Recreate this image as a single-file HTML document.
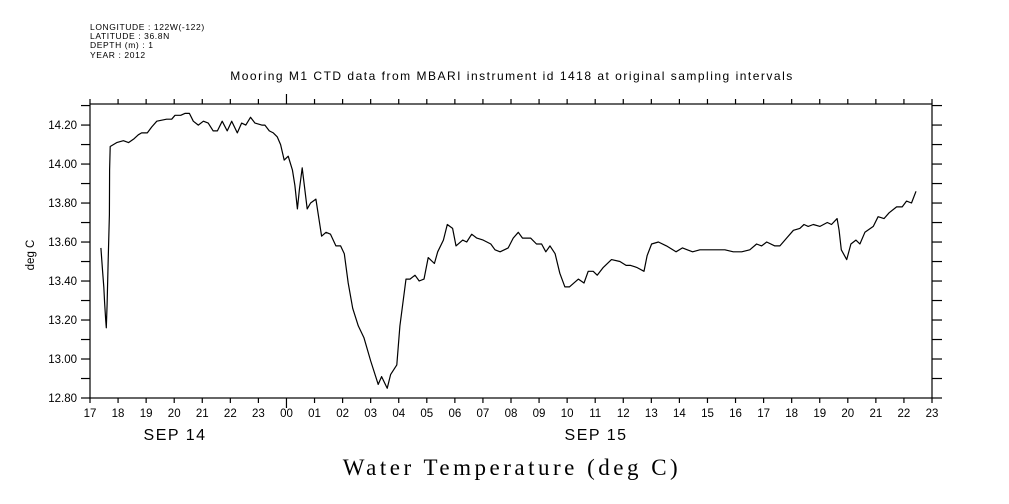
<!DOCTYPE html>
<html><head><meta charset="utf-8"><style>
html,body{margin:0;padding:0;background:#fff;}
svg{display:block;font-family:"Liberation Sans",sans-serif;}
</style></head><body>
<svg id="chart" width="1009" height="504" viewBox="0 0 1009 504">
<g font-size="8.5" fill="#000" letter-spacing="0.6">
<text x="90" y="30">LONGITUDE : 122W(-122)</text>
<text x="90" y="39">LATITUDE : 36.8N</text>
<text x="90" y="48">DEPTH (m) : 1</text>
<text x="90" y="58">YEAR : 2012</text>
</g>
<text x="512" y="80" font-size="12" letter-spacing="1.5" text-anchor="middle">Mooring M1 CTD data from MBARI instrument id 1418 at original sampling intervals</text>
<text transform="translate(34,255) rotate(-90)" font-size="11.5" text-anchor="middle">deg C</text>
<text x="512" y="475" font-family="Liberation Serif, serif" font-size="23" letter-spacing="3.5" text-anchor="middle">Water Temperature (deg C)</text>
<text x="175" y="440" font-size="16" letter-spacing="1.5" text-anchor="middle">SEP 14</text>
<text x="596" y="440" font-size="16" letter-spacing="1.5" text-anchor="middle">SEP 15</text>
<g id="axes"></g>
<g id="series"></g>
</svg>
<script>
const hourLabels=["17","18","19","20","21","22","23","00","01","02","03","04","05","06","07","08","09","10","11","12","13","14","15","16","17","18","19","20","21","22","23"];
const yTickValues=[12.8,13.0,13.2,13.4,13.6,13.8,14.0,14.2];
const hours=[0.39,0.45,0.49,0.52,0.56,0.58,0.61,0.65,0.69,0.7,0.72,0.95,1.19,1.37,1.57,1.72,1.84,2.04,2.2,2.38,2.73,2.91,3.03,3.23,3.38,3.54,3.68,3.86,4.04,4.21,4.39,4.54,4.71,4.89,5.05,5.25,5.4,5.55,5.72,5.88,6.12,6.23,6.39,6.53,6.67,6.79,6.92,7.06,7.21,7.3,7.39,7.46,7.56,7.63,7.74,7.86,8.05,8.25,8.41,8.57,8.76,8.93,9.06,9.2,9.36,9.56,9.76,10,10.27,10.39,10.59,10.71,10.93,11.04,11.26,11.4,11.58,11.73,11.9,12.05,12.27,12.39,12.59,12.73,12.92,13.04,13.28,13.42,13.6,13.78,14.01,14.28,14.43,14.61,14.9,15.08,15.26,15.41,15.7,15.91,16.09,16.24,16.39,16.57,16.74,16.92,17.08,17.4,17.6,17.75,17.93,18.07,18.29,18.58,18.88,19.1,19.26,19.48,19.74,19.85,20.01,20.25,20.54,20.88,21.11,21.28,21.47,21.73,21.97,22.62,22.92,23.22,23.51,23.75,23.93,24.11,24.4,24.58,24.82,25.06,25.29,25.44,25.59,25.77,26.01,26.27,26.42,26.62,26.69,26.77,26.96,27.11,27.29,27.43,27.61,27.91,28.08,28.29,28.47,28.74,28.94,29.09,29.27,29.43];
const temps=[13.57,13.45,13.37,13.29,13.20,13.16,13.28,13.51,13.74,13.97,14.09,14.11,14.12,14.11,14.13,14.15,14.16,14.16,14.19,14.22,14.23,14.23,14.25,14.25,14.26,14.26,14.22,14.20,14.22,14.21,14.17,14.17,14.22,14.17,14.22,14.16,14.21,14.20,14.24,14.21,14.20,14.20,14.17,14.16,14.14,14.10,14.02,14.04,13.97,13.89,13.77,13.87,13.98,13.90,13.77,13.80,13.82,13.63,13.65,13.64,13.58,13.58,13.54,13.39,13.26,13.17,13.11,12.99,12.87,12.91,12.85,12.92,12.97,13.17,13.41,13.41,13.43,13.40,13.41,13.52,13.49,13.55,13.61,13.69,13.67,13.58,13.61,13.60,13.64,13.62,13.61,13.59,13.56,13.55,13.57,13.62,13.65,13.62,13.62,13.59,13.59,13.55,13.58,13.54,13.44,13.37,13.37,13.41,13.39,13.45,13.45,13.43,13.47,13.51,13.50,13.48,13.48,13.47,13.45,13.53,13.59,13.60,13.58,13.55,13.57,13.56,13.55,13.56,13.56,13.56,13.55,13.55,13.56,13.59,13.58,13.60,13.58,13.58,13.62,13.66,13.67,13.69,13.68,13.69,13.68,13.70,13.69,13.72,13.66,13.56,13.51,13.59,13.61,13.59,13.65,13.68,13.73,13.72,13.75,13.78,13.78,13.81,13.80,13.86];
const X0=90,X1=932,Y0=398,Y1=104,H=30,VMIN=12.8,VMAX=14.308;
const sx=h=>X0+(X1-X0)*h/H;
const sy=v=>Y0-(Y0-Y1)*(v-VMIN)/(VMAX-VMIN);
const NS="http://www.w3.org/2000/svg";
const axes=document.getElementById('axes');
function mk(tag,attrs,parent){const e=document.createElementNS(NS,tag);for(const k in attrs)e.setAttribute(k,attrs[k]);parent.appendChild(e);return e;}
const frame=mk('rect',{x:X0,y:Y1,width:X1-X0,height:Y0-Y1,fill:'none',stroke:'#000','stroke-width':1.2},axes);


hourLabels.forEach((lab,i)=>{
  const x=sx(i),big=lab==="00";
  const tb=mk('line',{x1:x,x2:x,y1:Y0,y2:Y0+(big?10:5),stroke:'#000','stroke-width':1.2},axes);
  
  
  const tt=mk('line',{x1:x,x2:x,y1:Y1,y2:Y1-(big?10:5),stroke:'#000','stroke-width':1.2},axes);
  
  
  const t=mk('text',{x:x,y:Y0+19,'font-size':11.5,'text-anchor':'middle'},axes);
  t.textContent=lab;
  
  
});
for(let v=12.8;v<=14.31;v+=0.1){
  const y=sy(v);
  const l=mk('line',{x1:X0-9,x2:X0,y1:y,y2:y,stroke:'#000','stroke-width':1.2},axes);
  
  
  const r=mk('line',{x1:X1,x2:X1+10,y1:y,y2:y,stroke:'#000','stroke-width':1.2},axes);
  
  
}
yTickValues.forEach(v=>{
  const t=mk('text',{x:X0-13,y:sy(v)+4,'font-size':11.5,'text-anchor':'end'},axes);
  t.textContent=v.toFixed(2);
  
  
});
const pts=hours.map((h,i)=>sx(h).toFixed(1)+','+sy(temps[i]).toFixed(1)).join(' ');
const line=mk('polyline',{points:pts,fill:'none',stroke:'#000','stroke-width':1.2,'stroke-linejoin':'round'},document.getElementById('series'));


</script>
</body></html>
